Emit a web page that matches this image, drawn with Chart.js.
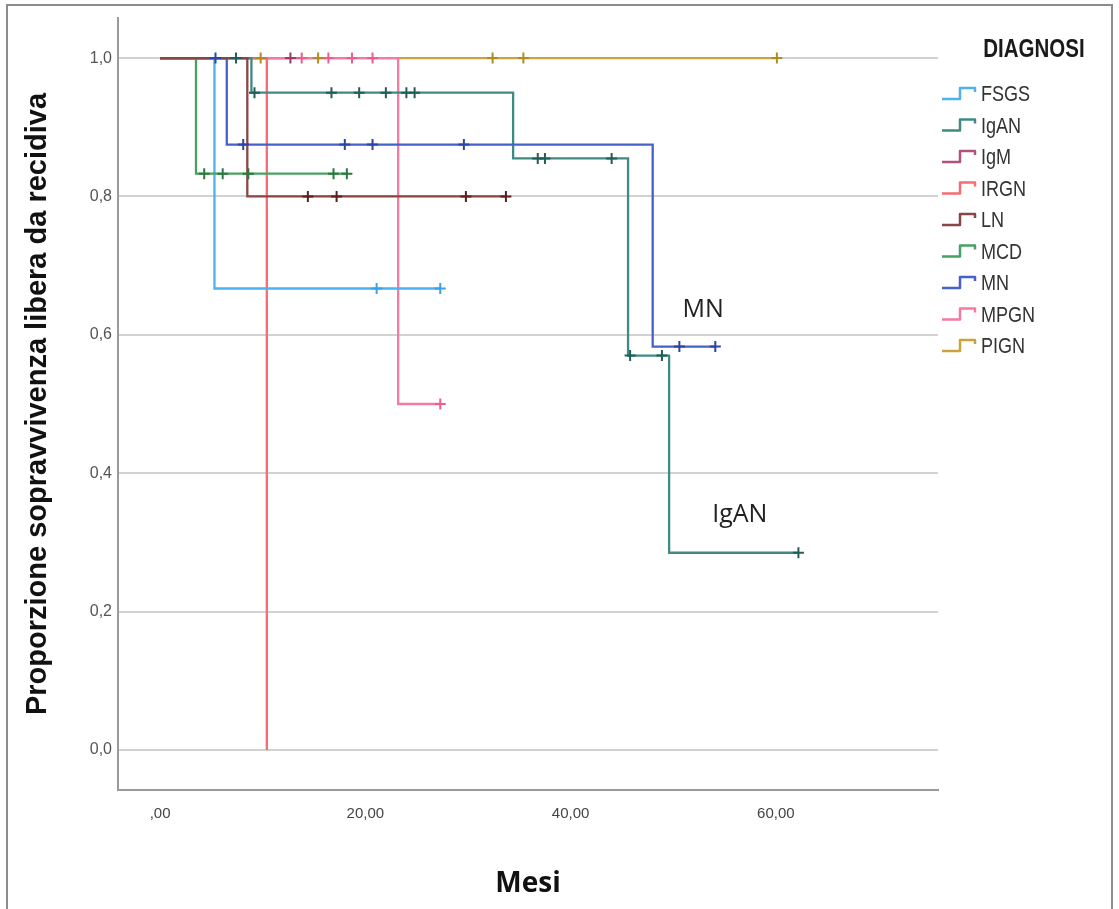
<!DOCTYPE html>
<html>
<head>
<meta charset="utf-8">
<script src="https://cdn.jsdelivr.net/npm/chart.js@4.4.0/dist/chart.umd.min.js"></script>
<style>
  html, body { margin: 0; padding: 0; background: #fff; }
  #wrap { position: relative; width: 1119px; height: 909px; overflow: hidden; }
  #km { position: absolute; left: 0; top: 0; }
  #frame { position: absolute; left: 6px; top: 4px; width: 1103px; height: 940px; border: 2px solid #8c8c8c; pointer-events: none; }
</style>
</head>
<body>
<div id="wrap">
  <canvas id="km" width="1119" height="909"></canvas>
  <div id="frame"></div>
</div>
<script>
// groups, legend order
const groups = ['FSGS', 'IgAN', 'IgM', 'IRGN', 'LN', 'MCD', 'MN', 'MPGN', 'PIGN'];
const lineColors = ['#4cb2f0', '#3f8b84', '#b0517f', '#f76b73', '#8a4646', '#48a163', '#4462c8', '#f47aa2', '#c9a43c'];
const markColors = ['#3aa0ea', '#1f5e59', '#9a3a6a', '#f25560', '#5c2020', '#2b7a3e', '#2a45a6', '#ef5d8f', '#b08c20'];

// step curve points (months, survival) and censored times
const fsgsT = [0, 5.3, 27.3];
const fsgsS = [1, 0.667, 0.667];
const fsgsC = [21.1, 27.3];

const iganT = [0, 8.9, 34.4, 45.6, 49.6, 62.2];
const iganS = [1, 0.95, 0.855, 0.57, 0.285, 0.285];
const iganC = [7.4, 9.2, 16.7, 19.4, 22.0, 24.0, 24.8, 36.8, 37.5, 44.0, 45.8, 48.9, 62.2];

const igmT = [0, 12.7];
const igmS = [1, 1];
const igmC = [12.7];

const irgnT = [0, 10.4];
const irgnS = [1, 0];
const irgnC = [];

const lnT = [0, 8.5, 33.7];
const lnS = [1, 0.8, 0.8];
const lnC = [14.4, 17.2, 29.8, 33.7];

const mcdT = [0, 3.5, 18.2];
const mcdS = [1, 0.833, 0.833];
const mcdC = [4.3, 6.1, 8.6, 16.9, 18.2];

const mnT = [0, 6.5, 48.0, 54.1];
const mnS = [1, 0.875, 0.583, 0.583];
const mnC = [5.4, 8.1, 18.0, 20.7, 29.6, 50.6, 54.1];

const mpgnT = [0, 23.2, 27.3];
const mpgnS = [1, 0.5, 0.5];
const mpgnC = [13.8, 16.4, 18.7, 20.7, 27.3];

const pignT = [0, 60.1];
const pignS = [1, 1];
const pignC = [9.8, 15.4, 32.4, 35.4, 60.1];

const xTicks = [0, 20, 40, 60];
const yTicks = [0, 0.2, 0.4, 0.6, 0.8, 1.0];

const stepT = [fsgsT, iganT, igmT, irgnT, lnT, mcdT, mnT, mpgnT, pignT];
const stepS = [fsgsS, iganS, igmS, irgnS, lnS, mcdS, mnS, mpgnS, pignS];
const censT = [fsgsC, iganC, igmC, irgnC, lnC, mcdC, mnC, mpgnC, pignC];

// which line is painted on top (first = top)
const drawOrder = [4, 6, 1, 5, 0, 3, 7, 2, 8];

function survAt(T, S, t) {
    let s = S[0];
    for (let i = 0; i < T.length; i++) {
        if (T[i] <= t) s = S[i];
    }
    return s;
}

const datasets = [];
drawOrder.forEach(g => {
    datasets.push({
        label: groups[g] + ' censored',
        data: censT[g].map(t => ({ x: t, y: survAt(stepT[g], stepS[g], t) })),
        showLine: false,
        pointStyle: 'cross',
        pointRadius: 5.5,
        pointBorderWidth: 2,
        pointBorderColor: markColors[g],
        pointBackgroundColor: markColors[g]
    });
});
drawOrder.forEach(g => {
    datasets.push({
        label: groups[g],
        data: stepT[g].map((t, i) => ({ x: t, y: stepS[g][i] })),
        showLine: true,
        stepped: 'before',
        borderColor: lineColors[g],
        borderWidth: 2.3,
        pointRadius: 0,
        fill: false
    });
});

const legendPlugin = {
    id: 'kmLegend',
    afterDraw(chart) {
        const ctx = chart.ctx;
        ctx.save();
        ctx.fillStyle = '#1a1a1a';
        ctx.textBaseline = 'middle';
        ctx.textAlign = 'center';
        ctx.save();
        ctx.translate(1034, 50);
        ctx.scale(0.82, 1);
        ctx.font = 'bold 25px "Liberation Sans", Arial, sans-serif';
        ctx.fillText('DIAGNOSI', 0, 0);
        ctx.restore();

        groups.forEach((name, i) => {
            const y = 95 + i * 31.5;
            ctx.strokeStyle = lineColors[i];
            ctx.lineWidth = 2.5;
            ctx.lineJoin = 'round';
            ctx.beginPath();
            ctx.moveTo(942, y + 4);
            ctx.lineTo(960, y + 4);
            ctx.lineTo(960, y - 7);
            ctx.lineTo(975, y - 7);
            ctx.lineTo(975, y - 3);
            ctx.stroke();

            ctx.save();
            ctx.translate(981, y);
            ctx.scale(0.82, 1);
            ctx.textAlign = 'left';
            ctx.fillStyle = '#333';
            ctx.font = '22px "Liberation Sans", Arial, sans-serif';
            ctx.fillText(name, 0, 0);
            ctx.restore();
        });

        // curve labels
        const xs = chart.scales.x, ys = chart.scales.y;
        ctx.fillStyle = '#222';
        ctx.textAlign = 'left';
        ctx.textBaseline = 'alphabetic';
        ctx.font = '25px "Open Sans", sans-serif';
        ctx.fillText('MN', xs.getPixelForValue(50.9), ys.getPixelForValue(0.626));
        ctx.fillText('IgAN', xs.getPixelForValue(53.8), ys.getPixelForValue(0.329));
        ctx.restore();
    }
};

const ctx = document.getElementById('km').getContext('2d');
const chart = new Chart(ctx, {
    type: 'scatter',
    data: { datasets: datasets },
    plugins: [legendPlugin],
    options: {
        responsive: false,
        animation: false,
        devicePixelRatio: 1,
        layout: { padding: { left: 0, top: 18, right: 181, bottom: 0 } },
        plugins: {
            legend: { display: false },
            tooltip: { enabled: false }
        },
        scales: {
            x: {
                type: 'linear',
                min: -4.1,
                max: 75.8,
                afterFit: s => { s.height = 119; },
                afterBuildTicks: s => { s.ticks = xTicks.map(v => ({ value: v })); },
                grid: { display: false, drawTicks: false },
                border: { display: true, color: '#9a9a9a', width: 2 },
                ticks: {
                    autoSkip: false,
                    maxRotation: 0,
                    padding: 15,
                    color: '#444',
                    font: { family: '"Liberation Sans", Arial, sans-serif', size: 15 },
                    callback: v => v === 0 ? ',00' : v.toFixed(2).replace('.', ',')
                },
                title: {
                    display: true,
                    text: 'Mesi',
                    color: '#111',
                    font: { family: '"Open Sans", sans-serif', size: 28, weight: 'bold' },
                    padding: { top: 0, bottom: 8 }
                }
            },
            y: {
                type: 'linear',
                min: -0.058,
                max: 1.058,
                afterFit: s => { s.width = 118; },
                afterBuildTicks: s => { s.ticks = yTicks.map(v => ({ value: v })); },
                grid: { color: '#d2d2d2', lineWidth: 2, drawTicks: false },
                border: { display: true, color: '#9a9a9a', width: 2 },
                ticks: {
                    autoSkip: false,
                    padding: 6,
                    color: '#555',
                    font: { family: '"Liberation Sans", Arial, sans-serif', size: 16 },
                    callback: v => v.toFixed(1).replace('.', ',')
                },
                title: {
                    display: true,
                    text: 'Proporzione sopravvivenza libera da recidiva',
                    color: '#111',
                    font: { family: '"Liberation Sans", Arial, sans-serif', size: 29, weight: 'bold' },
                    padding: { top: 21, bottom: 0 }
                }
            }
        }
    }
});
</script>
</body>
</html>
